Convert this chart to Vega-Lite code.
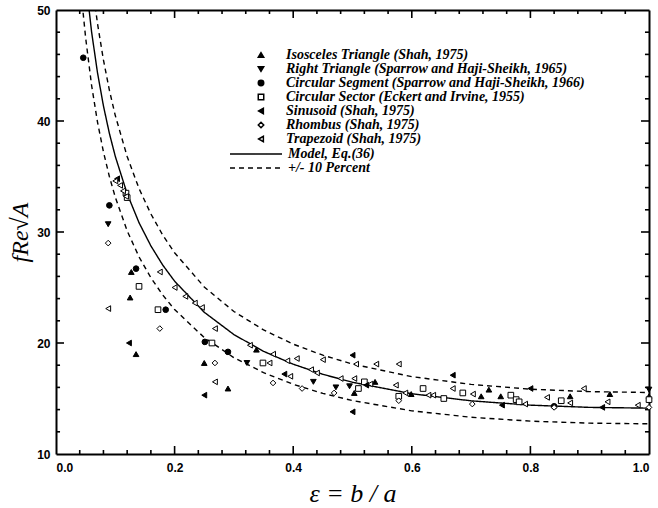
{
  "$schema": "https://vega.github.io/schema/vega-lite/v6.json",
  "width": 593,
  "height": 444,
  "autosize": {"type": "none"},
  "padding": {"left": 56, "top": 10, "right": 9, "bottom": 54},
  "background": "white",
  "config": {
    "view": {"stroke": null},
    "axis": {
      "domainColor": "black", "domainWidth": 2,
      "labelFont": "Liberation Sans", "labelFontWeight": "bold", "labelFontSize": 12, "labelColor": "black",
      "grid": false, "titleColor": "black", "titleFont": "Liberation Serif", "titleFontSize": 22, "titleFontWeight": "normal"
    },
    "legend": {
      "labelFont": "Liberation Serif", "labelFontStyle": "italic", "labelFontWeight": "bold", "labelFontSize": 14, "labelColor": "black", "labelLimit": 400
    }
  },
  "datasets": {
    "xt": [
      {"t": 0.04, "k": "minor"}, {"t": 0.08, "k": "minor"}, {"t": 0.12, "k": "minor"}, {"t": 0.16, "k": "minor"}, {"t": 0.2, "k": "major"},
      {"t": 0.24, "k": "minor"}, {"t": 0.28, "k": "minor"}, {"t": 0.32, "k": "minor"}, {"t": 0.36, "k": "minor"}, {"t": 0.4, "k": "major"},
      {"t": 0.44, "k": "minor"}, {"t": 0.48, "k": "minor"}, {"t": 0.52, "k": "minor"}, {"t": 0.56, "k": "minor"}, {"t": 0.6, "k": "major"},
      {"t": 0.64, "k": "minor"}, {"t": 0.68, "k": "minor"}, {"t": 0.72, "k": "minor"}, {"t": 0.76, "k": "minor"}, {"t": 0.8, "k": "major"},
      {"t": 0.84, "k": "minor"}, {"t": 0.88, "k": "minor"}, {"t": 0.92, "k": "minor"}, {"t": 0.96, "k": "minor"}
    ],
    "yt": [
      {"t": 12, "k": "minor"}, {"t": 14, "k": "minor"}, {"t": 16, "k": "minor"}, {"t": 18, "k": "minor"}, {"t": 20, "k": "major"},
      {"t": 22, "k": "minor"}, {"t": 24, "k": "minor"}, {"t": 26, "k": "minor"}, {"t": 28, "k": "minor"}, {"t": 30, "k": "major"},
      {"t": 32, "k": "minor"}, {"t": 34, "k": "minor"}, {"t": 36, "k": "minor"}, {"t": 38, "k": "minor"}, {"t": 40, "k": "major"},
      {"t": 42, "k": "minor"}, {"t": 44, "k": "minor"}, {"t": 46, "k": "minor"}, {"t": 48, "k": "minor"}
    ],
    "curve": [
      {"c": "m", "s": "Model, Eq.(36)", "e": 0.035, "v": 63.37}, {"c": "m", "s": "Model, Eq.(36)", "e": 0.04, "v": 59.18},
      {"c": "m", "s": "Model, Eq.(36)", "e": 0.045, "v": 55.70}, {"c": "m", "s": "Model, Eq.(36)", "e": 0.05, "v": 52.77},
      {"c": "m", "s": "Model, Eq.(36)", "e": 0.06, "v": 48.03}, {"c": "m", "s": "Model, Eq.(36)", "e": 0.07, "v": 44.34},
      {"c": "m", "s": "Model, Eq.(36)", "e": 0.08, "v": 41.36}, {"c": "m", "s": "Model, Eq.(36)", "e": 0.09, "v": 38.89},
      {"c": "m", "s": "Model, Eq.(36)", "e": 0.1, "v": 36.81}, {"c": "m", "s": "Model, Eq.(36)", "e": 0.12, "v": 33.45},
      {"c": "m", "s": "Model, Eq.(36)", "e": 0.14, "v": 30.84}, {"c": "m", "s": "Model, Eq.(36)", "e": 0.16, "v": 28.75},
      {"c": "m", "s": "Model, Eq.(36)", "e": 0.18, "v": 27.02}, {"c": "m", "s": "Model, Eq.(36)", "e": 0.2, "v": 25.57},
      {"c": "m", "s": "Model, Eq.(36)", "e": 0.25, "v": 22.77}, {"c": "m", "s": "Model, Eq.(36)", "e": 0.3, "v": 20.76},
      {"c": "m", "s": "Model, Eq.(36)", "e": 0.35, "v": 19.25}, {"c": "m", "s": "Model, Eq.(36)", "e": 0.4, "v": 18.09},
      {"c": "m", "s": "Model, Eq.(36)", "e": 0.45, "v": 17.18}, {"c": "m", "s": "Model, Eq.(36)", "e": 0.5, "v": 16.46},
      {"c": "m", "s": "Model, Eq.(36)", "e": 0.6, "v": 15.43}, {"c": "m", "s": "Model, Eq.(36)", "e": 0.7, "v": 14.79},
      {"c": "m", "s": "Model, Eq.(36)", "e": 0.8, "v": 14.40}, {"c": "m", "s": "Model, Eq.(36)", "e": 0.9, "v": 14.20},
      {"c": "m", "s": "Model, Eq.(36)", "e": 1.0, "v": 14.13},
      {"c": "u", "s": "+/- 10 Percent", "e": 0.035, "v": 69.71}, {"c": "u", "s": "+/- 10 Percent", "e": 0.04, "v": 65.10},
      {"c": "u", "s": "+/- 10 Percent", "e": 0.045, "v": 61.27}, {"c": "u", "s": "+/- 10 Percent", "e": 0.05, "v": 58.04},
      {"c": "u", "s": "+/- 10 Percent", "e": 0.06, "v": 52.83}, {"c": "u", "s": "+/- 10 Percent", "e": 0.07, "v": 48.77},
      {"c": "u", "s": "+/- 10 Percent", "e": 0.08, "v": 45.50}, {"c": "u", "s": "+/- 10 Percent", "e": 0.09, "v": 42.78},
      {"c": "u", "s": "+/- 10 Percent", "e": 0.1, "v": 40.49}, {"c": "u", "s": "+/- 10 Percent", "e": 0.12, "v": 36.80},
      {"c": "u", "s": "+/- 10 Percent", "e": 0.14, "v": 33.92}, {"c": "u", "s": "+/- 10 Percent", "e": 0.16, "v": 31.63},
      {"c": "u", "s": "+/- 10 Percent", "e": 0.18, "v": 29.72}, {"c": "u", "s": "+/- 10 Percent", "e": 0.2, "v": 28.13},
      {"c": "u", "s": "+/- 10 Percent", "e": 0.25, "v": 25.05}, {"c": "u", "s": "+/- 10 Percent", "e": 0.3, "v": 22.84},
      {"c": "u", "s": "+/- 10 Percent", "e": 0.35, "v": 21.18}, {"c": "u", "s": "+/- 10 Percent", "e": 0.4, "v": 19.90},
      {"c": "u", "s": "+/- 10 Percent", "e": 0.45, "v": 18.90}, {"c": "u", "s": "+/- 10 Percent", "e": 0.5, "v": 18.10},
      {"c": "u", "s": "+/- 10 Percent", "e": 0.6, "v": 16.97}, {"c": "u", "s": "+/- 10 Percent", "e": 0.7, "v": 16.27},
      {"c": "u", "s": "+/- 10 Percent", "e": 0.8, "v": 15.84}, {"c": "u", "s": "+/- 10 Percent", "e": 0.9, "v": 15.62},
      {"c": "u", "s": "+/- 10 Percent", "e": 1.0, "v": 15.54},
      {"c": "l", "s": "+/- 10 Percent", "e": 0.035, "v": 57.03}, {"c": "l", "s": "+/- 10 Percent", "e": 0.04, "v": 53.26},
      {"c": "l", "s": "+/- 10 Percent", "e": 0.045, "v": 50.13}, {"c": "l", "s": "+/- 10 Percent", "e": 0.05, "v": 47.49},
      {"c": "l", "s": "+/- 10 Percent", "e": 0.06, "v": 43.22}, {"c": "l", "s": "+/- 10 Percent", "e": 0.07, "v": 39.90},
      {"c": "l", "s": "+/- 10 Percent", "e": 0.08, "v": 37.22}, {"c": "l", "s": "+/- 10 Percent", "e": 0.09, "v": 35.00},
      {"c": "l", "s": "+/- 10 Percent", "e": 0.1, "v": 33.13}, {"c": "l", "s": "+/- 10 Percent", "e": 0.12, "v": 30.11},
      {"c": "l", "s": "+/- 10 Percent", "e": 0.14, "v": 27.76}, {"c": "l", "s": "+/- 10 Percent", "e": 0.16, "v": 25.88},
      {"c": "l", "s": "+/- 10 Percent", "e": 0.18, "v": 24.32}, {"c": "l", "s": "+/- 10 Percent", "e": 0.2, "v": 23.01},
      {"c": "l", "s": "+/- 10 Percent", "e": 0.25, "v": 20.49}, {"c": "l", "s": "+/- 10 Percent", "e": 0.3, "v": 18.68},
      {"c": "l", "s": "+/- 10 Percent", "e": 0.35, "v": 17.33}, {"c": "l", "s": "+/- 10 Percent", "e": 0.4, "v": 16.28},
      {"c": "l", "s": "+/- 10 Percent", "e": 0.45, "v": 15.46}, {"c": "l", "s": "+/- 10 Percent", "e": 0.5, "v": 14.81},
      {"c": "l", "s": "+/- 10 Percent", "e": 0.6, "v": 13.89}, {"c": "l", "s": "+/- 10 Percent", "e": 0.7, "v": 13.31},
      {"c": "l", "s": "+/- 10 Percent", "e": 0.8, "v": 12.96}, {"c": "l", "s": "+/- 10 Percent", "e": 0.9, "v": 12.78},
      {"c": "l", "s": "+/- 10 Percent", "e": 1.0, "v": 12.72}
    ],
    "pts": [
      {"s": "Isosceles Triangle (Shah, 1975)", "e": 0.127, "v": 26.4},
      {"s": "Isosceles Triangle (Shah, 1975)", "e": 0.125, "v": 24.1},
      {"s": "Isosceles Triangle (Shah, 1975)", "e": 0.135, "v": 19.0},
      {"s": "Isosceles Triangle (Shah, 1975)", "e": 0.25, "v": 18.2},
      {"s": "Isosceles Triangle (Shah, 1975)", "e": 0.29, "v": 15.9},
      {"s": "Isosceles Triangle (Shah, 1975)", "e": 0.338, "v": 19.4},
      {"s": "Isosceles Triangle (Shah, 1975)", "e": 0.503, "v": 15.5},
      {"s": "Isosceles Triangle (Shah, 1975)", "e": 0.538, "v": 16.5},
      {"s": "Isosceles Triangle (Shah, 1975)", "e": 0.599, "v": 15.4},
      {"s": "Isosceles Triangle (Shah, 1975)", "e": 0.717, "v": 15.2},
      {"s": "Isosceles Triangle (Shah, 1975)", "e": 0.73, "v": 15.8},
      {"s": "Isosceles Triangle (Shah, 1975)", "e": 0.75, "v": 15.2},
      {"s": "Isosceles Triangle (Shah, 1975)", "e": 0.867, "v": 15.2},
      {"s": "Isosceles Triangle (Shah, 1975)", "e": 0.934, "v": 15.4},
      {"s": "Isosceles Triangle (Shah, 1975)", "e": 1.0, "v": 15.2},
      {"s": "Right Triangle (Sparrow and Haji-Sheikh, 1965)", "e": 0.088, "v": 30.7},
      {"s": "Right Triangle (Sparrow and Haji-Sheikh, 1965)", "e": 0.322, "v": 18.2},
      {"s": "Right Triangle (Sparrow and Haji-Sheikh, 1965)", "e": 0.434, "v": 16.5},
      {"s": "Right Triangle (Sparrow and Haji-Sheikh, 1965)", "e": 0.472, "v": 16.0},
      {"s": "Right Triangle (Sparrow and Haji-Sheikh, 1965)", "e": 0.495, "v": 16.1},
      {"s": "Right Triangle (Sparrow and Haji-Sheikh, 1965)", "e": 1.0, "v": 15.8},
      {"s": "Circular Segment (Sparrow and Haji-Sheikh, 1966)", "e": 0.046, "v": 45.7},
      {"s": "Circular Segment (Sparrow and Haji-Sheikh, 1966)", "e": 0.09, "v": 32.4},
      {"s": "Circular Segment (Sparrow and Haji-Sheikh, 1966)", "e": 0.135, "v": 26.7},
      {"s": "Circular Segment (Sparrow and Haji-Sheikh, 1966)", "e": 0.185, "v": 23.0},
      {"s": "Circular Segment (Sparrow and Haji-Sheikh, 1966)", "e": 0.251, "v": 20.1},
      {"s": "Circular Segment (Sparrow and Haji-Sheikh, 1966)", "e": 0.29, "v": 19.2},
      {"s": "Circular Segment (Sparrow and Haji-Sheikh, 1966)", "e": 0.84, "v": 14.3},
      {"s": "Circular Sector (Eckert and Irvine, 1955)", "e": 0.118, "v": 33.5},
      {"s": "Circular Sector (Eckert and Irvine, 1955)", "e": 0.12, "v": 33.1},
      {"s": "Circular Sector (Eckert and Irvine, 1955)", "e": 0.14, "v": 25.1},
      {"s": "Circular Sector (Eckert and Irvine, 1955)", "e": 0.172, "v": 23.0},
      {"s": "Circular Sector (Eckert and Irvine, 1955)", "e": 0.263, "v": 20.0},
      {"s": "Circular Sector (Eckert and Irvine, 1955)", "e": 0.349, "v": 18.2},
      {"s": "Circular Sector (Eckert and Irvine, 1955)", "e": 0.51, "v": 15.9},
      {"s": "Circular Sector (Eckert and Irvine, 1955)", "e": 0.52, "v": 16.5},
      {"s": "Circular Sector (Eckert and Irvine, 1955)", "e": 0.578, "v": 15.2},
      {"s": "Circular Sector (Eckert and Irvine, 1955)", "e": 0.619, "v": 15.9},
      {"s": "Circular Sector (Eckert and Irvine, 1955)", "e": 0.654, "v": 15.0},
      {"s": "Circular Sector (Eckert and Irvine, 1955)", "e": 0.686, "v": 15.5},
      {"s": "Circular Sector (Eckert and Irvine, 1955)", "e": 0.767, "v": 15.3},
      {"s": "Circular Sector (Eckert and Irvine, 1955)", "e": 0.776, "v": 14.9},
      {"s": "Circular Sector (Eckert and Irvine, 1955)", "e": 0.781, "v": 14.7},
      {"s": "Circular Sector (Eckert and Irvine, 1955)", "e": 0.852, "v": 14.8},
      {"s": "Circular Sector (Eckert and Irvine, 1955)", "e": 1.0, "v": 14.9},
      {"s": "Sinusoid (Shah, 1975)", "e": 0.103, "v": 34.8},
      {"s": "Sinusoid (Shah, 1975)", "e": 0.123, "v": 20.0},
      {"s": "Sinusoid (Shah, 1975)", "e": 0.25, "v": 15.3},
      {"s": "Sinusoid (Shah, 1975)", "e": 0.385, "v": 17.2},
      {"s": "Sinusoid (Shah, 1975)", "e": 0.5, "v": 18.9},
      {"s": "Sinusoid (Shah, 1975)", "e": 0.5, "v": 13.8},
      {"s": "Sinusoid (Shah, 1975)", "e": 0.523, "v": 16.2},
      {"s": "Sinusoid (Shah, 1975)", "e": 0.669, "v": 17.1},
      {"s": "Sinusoid (Shah, 1975)", "e": 0.752, "v": 14.4},
      {"s": "Sinusoid (Shah, 1975)", "e": 0.8, "v": 15.9},
      {"s": "Sinusoid (Shah, 1975)", "e": 0.921, "v": 14.2},
      {"s": "Rhombus (Shah, 1975)", "e": 0.088, "v": 29.0},
      {"s": "Rhombus (Shah, 1975)", "e": 0.175, "v": 21.3},
      {"s": "Rhombus (Shah, 1975)", "e": 0.268, "v": 18.2},
      {"s": "Rhombus (Shah, 1975)", "e": 0.366, "v": 16.4},
      {"s": "Rhombus (Shah, 1975)", "e": 0.415, "v": 15.9},
      {"s": "Rhombus (Shah, 1975)", "e": 0.469, "v": 15.5},
      {"s": "Rhombus (Shah, 1975)", "e": 0.578, "v": 14.8},
      {"s": "Rhombus (Shah, 1975)", "e": 0.702, "v": 14.5},
      {"s": "Rhombus (Shah, 1975)", "e": 0.84, "v": 14.2},
      {"s": "Rhombus (Shah, 1975)", "e": 1.0, "v": 14.2},
      {"s": "Trapezoid (Shah, 1975)", "e": 0.1, "v": 34.6},
      {"s": "Trapezoid (Shah, 1975)", "e": 0.108, "v": 34.2},
      {"s": "Trapezoid (Shah, 1975)", "e": 0.113, "v": 33.7},
      {"s": "Trapezoid (Shah, 1975)", "e": 0.118, "v": 33.2},
      {"s": "Trapezoid (Shah, 1975)", "e": 0.088, "v": 23.1},
      {"s": "Trapezoid (Shah, 1975)", "e": 0.175, "v": 26.4},
      {"s": "Trapezoid (Shah, 1975)", "e": 0.2, "v": 25.0},
      {"s": "Trapezoid (Shah, 1975)", "e": 0.218, "v": 24.2},
      {"s": "Trapezoid (Shah, 1975)", "e": 0.234, "v": 23.6},
      {"s": "Trapezoid (Shah, 1975)", "e": 0.246, "v": 23.2},
      {"s": "Trapezoid (Shah, 1975)", "e": 0.268, "v": 21.3},
      {"s": "Trapezoid (Shah, 1975)", "e": 0.268, "v": 16.5},
      {"s": "Trapezoid (Shah, 1975)", "e": 0.327, "v": 19.8},
      {"s": "Trapezoid (Shah, 1975)", "e": 0.36, "v": 18.2},
      {"s": "Trapezoid (Shah, 1975)", "e": 0.366, "v": 19.0},
      {"s": "Trapezoid (Shah, 1975)", "e": 0.39, "v": 18.4},
      {"s": "Trapezoid (Shah, 1975)", "e": 0.406, "v": 18.6},
      {"s": "Trapezoid (Shah, 1975)", "e": 0.43, "v": 17.6},
      {"s": "Trapezoid (Shah, 1975)", "e": 0.44, "v": 17.3},
      {"s": "Trapezoid (Shah, 1975)", "e": 0.395, "v": 17.0},
      {"s": "Trapezoid (Shah, 1975)", "e": 0.45, "v": 18.5},
      {"s": "Trapezoid (Shah, 1975)", "e": 0.48, "v": 16.8},
      {"s": "Trapezoid (Shah, 1975)", "e": 0.503, "v": 16.8},
      {"s": "Trapezoid (Shah, 1975)", "e": 0.506, "v": 18.1},
      {"s": "Trapezoid (Shah, 1975)", "e": 0.53, "v": 16.3},
      {"s": "Trapezoid (Shah, 1975)", "e": 0.54, "v": 18.1},
      {"s": "Trapezoid (Shah, 1975)", "e": 0.573, "v": 16.2},
      {"s": "Trapezoid (Shah, 1975)", "e": 0.578, "v": 18.1},
      {"s": "Trapezoid (Shah, 1975)", "e": 0.589, "v": 15.5},
      {"s": "Trapezoid (Shah, 1975)", "e": 0.628, "v": 15.3},
      {"s": "Trapezoid (Shah, 1975)", "e": 0.636, "v": 15.3},
      {"s": "Trapezoid (Shah, 1975)", "e": 0.669, "v": 15.9},
      {"s": "Trapezoid (Shah, 1975)", "e": 0.703, "v": 15.4},
      {"s": "Trapezoid (Shah, 1975)", "e": 0.791, "v": 14.5},
      {"s": "Trapezoid (Shah, 1975)", "e": 0.828, "v": 15.1},
      {"s": "Trapezoid (Shah, 1975)", "e": 0.867, "v": 14.6},
      {"s": "Trapezoid (Shah, 1975)", "e": 0.89, "v": 15.9},
      {"s": "Trapezoid (Shah, 1975)", "e": 0.93, "v": 14.7},
      {"s": "Trapezoid (Shah, 1975)", "e": 0.981, "v": 14.4}
    ]
  },
  "layer": [
    {
      "data": {"name": "curve"},
      "transform": [{"filter": "datum.c == 'm'"}],
      "mark": {"type": "line", "clip": true, "color": "black", "strokeWidth": 1.4},
      "encoding": {
        "x": {"field": "e", "type": "quantitative", "scale": {"domain": [0, 1], "nice": false, "zero": false},
          "axis": {"orient": "top", "labels": false, "ticks": false, "title": null, "domain": true}},
        "y": {"field": "v", "type": "quantitative", "scale": {"domain": [10, 50], "nice": false, "zero": false},
          "axis": {"orient": "right", "labels": false, "ticks": false, "title": null, "domain": true}},
        "detail": {"field": "c", "type": "nominal"},
        "strokeDash": {"field": "s", "type": "nominal",
          "scale": {"domain": ["Model, Eq.(36)", "+/- 10 Percent"], "range": [[1, 0], [5, 4]]},
          "legend": {"orient": "none", "legendX": 193, "legendY": 137, "title": null,
            "symbolType": "M-5.2,0H5.2", "symbolSize": 100, "symbolStrokeWidth": 1.4, "symbolStrokeColor": "black",
            "labelOffset": 25, "rowPadding": 0}}
      }
    },
    {
      "data": {"name": "curve"},
      "transform": [{"filter": "datum.c != 'm'"}],
      "mark": {"type": "line", "clip": true, "color": "black", "strokeWidth": 1.4},
      "encoding": {
        "x": {"field": "e", "type": "quantitative", "axis": null},
        "y": {"field": "v", "type": "quantitative", "axis": null},
        "detail": {"field": "c", "type": "nominal"},
        "strokeDash": {"field": "s", "type": "nominal",
          "legend": {"orient": "none", "legendX": 193, "legendY": 137, "title": null,
            "symbolType": "M-5.2,0H5.2", "symbolSize": 100, "symbolStrokeWidth": 1.4, "symbolStrokeColor": "black",
            "labelOffset": 25, "rowPadding": 0}}
      }
    },
    {
      "data": {"name": "xt"}, "transform": [{"filter": "datum.k == 'major'"}],
      "mark": {"type": "rule", "color": "black", "strokeWidth": 1.6},
      "encoding": {"x": {"field": "t", "type": "quantitative", "axis": null}, "y": {"datum": 10, "type": "quantitative", "axis": null}, "y2": {"datum": 10.72}}
    },
    {
      "data": {"name": "xt"}, "transform": [{"filter": "datum.k == 'minor'"}],
      "mark": {"type": "rule", "color": "black", "strokeWidth": 1.6},
      "encoding": {"x": {"field": "t", "type": "quantitative", "axis": null}, "y": {"datum": 10, "type": "quantitative", "axis": null}, "y2": {"datum": 10.36}}
    },
    {
      "data": {"name": "xt"}, "transform": [{"filter": "datum.k == 'major'"}],
      "mark": {"type": "rule", "color": "black", "strokeWidth": 1.6},
      "encoding": {"x": {"field": "t", "type": "quantitative", "axis": null}, "y": {"datum": 50, "type": "quantitative", "axis": null}, "y2": {"datum": 49.28}}
    },
    {
      "data": {"name": "xt"}, "transform": [{"filter": "datum.k == 'minor'"}],
      "mark": {"type": "rule", "color": "black", "strokeWidth": 1.6},
      "encoding": {"x": {"field": "t", "type": "quantitative", "axis": null}, "y": {"datum": 50, "type": "quantitative", "axis": null}, "y2": {"datum": 49.64}}
    },
    {
      "data": {"name": "yt"}, "transform": [{"filter": "datum.k == 'major'"}],
      "mark": {"type": "rule", "color": "black", "strokeWidth": 1.6},
      "encoding": {"y": {"field": "t", "type": "quantitative", "axis": null}, "x": {"datum": 0, "type": "quantitative", "axis": null}, "x2": {"datum": 0.0135}}
    },
    {
      "data": {"name": "yt"}, "transform": [{"filter": "datum.k == 'minor'"}],
      "mark": {"type": "rule", "color": "black", "strokeWidth": 1.6},
      "encoding": {"y": {"field": "t", "type": "quantitative", "axis": null}, "x": {"datum": 0, "type": "quantitative", "axis": null}, "x2": {"datum": 0.0068}}
    },
    {
      "data": {"name": "yt"}, "transform": [{"filter": "datum.k == 'major'"}],
      "mark": {"type": "rule", "color": "black", "strokeWidth": 1.6},
      "encoding": {"y": {"field": "t", "type": "quantitative", "axis": null}, "x": {"datum": 1, "type": "quantitative", "axis": null}, "x2": {"datum": 0.9865}}
    },
    {
      "data": {"name": "yt"}, "transform": [{"filter": "datum.k == 'minor'"}],
      "mark": {"type": "rule", "color": "black", "strokeWidth": 1.6},
      "encoding": {"y": {"field": "t", "type": "quantitative", "axis": null}, "x": {"datum": 1, "type": "quantitative", "axis": null}, "x2": {"datum": 0.9932}}
    },
    {
      "data": {"name": "pts"},
      "mark": {"type": "point", "opacity": 1, "stroke": "black", "strokeWidth": 1, "size": 32},
      "encoding": {
        "x": {"field": "e", "type": "quantitative", "title": "ε = b / a",
          "axis": {"orient": "bottom", "ticks": false, "titleFontStyle": "italic", "titleFontSize": 26, "titlePadding": 7, "labelPadding": 8,
            "values": [0, 0.2, 0.4, 0.6, 0.8, 1], "format": ".1f"}},
        "y": {"field": "v", "type": "quantitative", "title": "fRe√A",
          "axis": {"orient": "left", "ticks": false, "titleFontStyle": "italic", "titleFontSize": 24, "titlePadding": 4, "labelPadding": 6,
            "values": [10, 20, 30, 40, 50]}},
        "shape": {"field": "s", "type": "nominal",
          "scale": {"domain": ["Isosceles Triangle (Shah, 1975)", "Right Triangle (Sparrow and Haji-Sheikh, 1965)", "Circular Segment (Sparrow and Haji-Sheikh, 1966)", "Circular Sector (Eckert and Irvine, 1955)", "Sinusoid (Shah, 1975)", "Rhombus (Shah, 1975)", "Trapezoid (Shah, 1975)"],
            "range": ["triangle-up", "triangle-down", "circle", "square", "triangle-left", "diamond", "triangle-left"]},
          "legend": {"orient": "none", "legendX": 198, "legendY": 38, "title": null,
            "symbolSize": 30, "symbolOpacity": 1, "labelOffset": 18, "rowPadding": -4,
            "encode": {"symbols": {"update": {"stroke": {"value": "black"}, "strokeWidth": {"value": 1}}}}}},
        "fill": {"field": "s", "type": "nominal",
          "scale": {"domain": ["Isosceles Triangle (Shah, 1975)", "Right Triangle (Sparrow and Haji-Sheikh, 1965)", "Circular Segment (Sparrow and Haji-Sheikh, 1966)", "Circular Sector (Eckert and Irvine, 1955)", "Sinusoid (Shah, 1975)", "Rhombus (Shah, 1975)", "Trapezoid (Shah, 1975)"],
            "range": ["black", "black", "black", "white", "black", "white", "white"]},
          "legend": {"orient": "none", "legendX": 198, "legendY": 38, "title": null,
            "symbolSize": 30, "symbolOpacity": 1, "labelOffset": 18, "rowPadding": -4,
            "encode": {"symbols": {"update": {"stroke": {"value": "black"}, "strokeWidth": {"value": 1}}}}}}
      }
    }
  ],
  "resolve": {"axis": {"x": "independent", "y": "independent"}}
}
